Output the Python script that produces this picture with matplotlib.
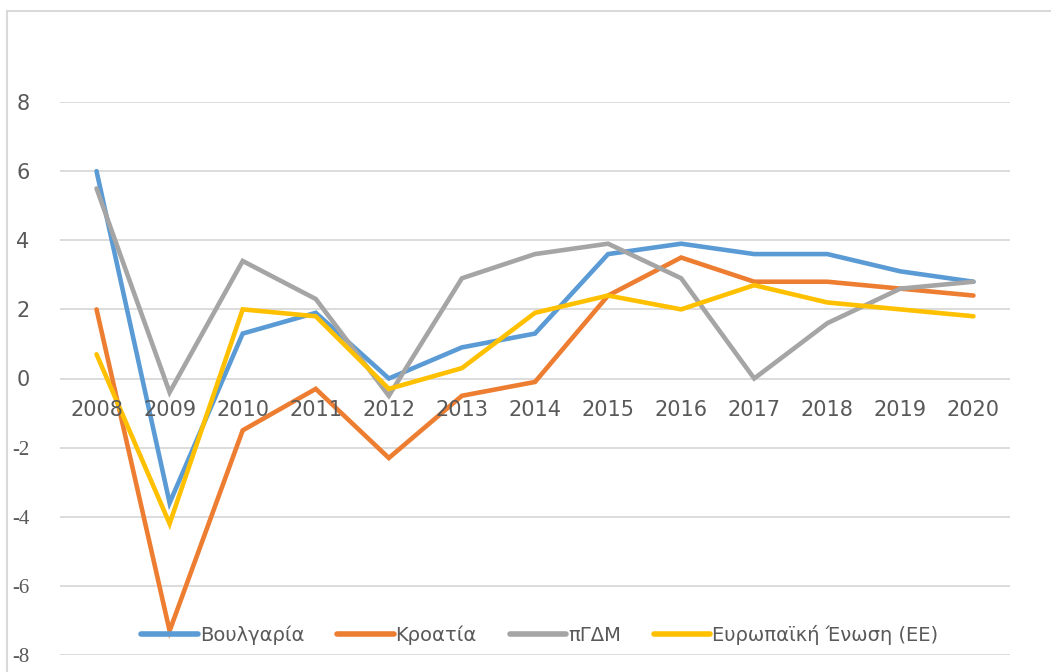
import matplotlib
matplotlib.use("Agg")
import matplotlib.pyplot as plt
from matplotlib.patches import Rectangle
from matplotlib import font_manager

years = ["2008", "2009", "2010", "2011", "2012", "2013", "2014",
         "2015", "2016", "2017", "2018", "2019", "2020"]
bulgaria = [6.0, -3.6, 1.3, 1.9, 0.0, 0.9, 1.3, 3.6, 3.9, 3.6, 3.6, 3.1, 2.8]
croatia = [2.0, -7.3, -1.5, -0.3, -2.3, -0.5, -0.1, 2.4, 3.5, 2.8, 2.8, 2.6, 2.4]
pgdm = [5.5, -0.4, 3.4, 2.3, -0.5, 2.9, 3.6, 3.9, 2.9, 0.0, 1.6, 2.6, 2.8]
eu = [0.7, -4.2, 2.0, 1.8, -0.3, 0.3, 1.9, 2.4, 2.0, 2.7, 2.2, 2.0, 1.8]
series_names = ["Βουλγαρία", "Κροατία", "πΓΔΜ", "Ευρωπαϊκή Ένωση (ΕΕ)"]
y_ticks = [-8, -6, -4, -2, 0, 2, 4, 6, 8]

colors = ["#5B9BD5", "#ED7D31", "#A5A5A5", "#FFC000"]

names = {f.name for f in font_manager.fontManager.ttflist}
narrow = "Liberation Sans Narrow" if "Liberation Sans Narrow" in names else "DejaVu Sans"
plt.rcParams['font.family'] = [narrow, 'DejaVu Sans']

fig = plt.figure(figsize=(10.51, 6.72), dpi=100)
fig.patch.set_facecolor("white")
fig.add_artist(Rectangle((7/1051, -0.05), 1.1, 1 - 11/672 + 0.05,
                         transform=fig.transFigure, fill=False,
                         edgecolor="#D9D9D9", linewidth=1.5))

ax = fig.add_axes([60/1051, 1 - 655/672, 950/1051, (655 - 102)/672])
x = list(range(len(years)))
for vals, name, c in zip([bulgaria, croatia, pgdm, eu], series_names, colors):
    ax.plot(x, vals, color=c, linewidth=3.3, label=name, solid_capstyle="round",
            solid_joinstyle="miter")

ax.set_xlim(-0.5, len(years) - 0.5)
ax.set_ylim(-8, 8)
ax.set_yticks(y_ticks)
ax.set_yticklabels([str(v) for v in y_ticks])
ax.yaxis.grid(True, color="#D9D9D9", linewidth=1.3)
ax.set_axisbelow(True)
for s in ax.spines.values():
    s.set_visible(False)
ax.tick_params(axis="y", length=0, pad=22, labelsize=15, labelcolor="#595959")
for lbl, v in zip(ax.get_yticklabels(), y_ticks):
    if v < 0:
        lbl.set_fontfamily(["Liberation Serif", "DejaVu Serif"])
ax.set_xticks([])
for xi, yr in zip(x, years):
    ax.annotate(yr, xy=(xi, 0), xycoords="data", xytext=(0, -31),
                textcoords="offset pixels", ha="center", va="center",
                fontsize=15, color="#595959")

leg = ax.legend(loc="center", bbox_to_anchor=(540/1051, 1 - 635/672),
                bbox_transform=fig.transFigure, ncol=4, frameon=False,
                fontsize=14, handlelength=2.9, handletextpad=0.1,
                columnspacing=1.7, labelcolor="#595959")
for h in leg.get_lines():
    h.set_linewidth(4)

fig.savefig("out.png", dpi=100, facecolor="white")
